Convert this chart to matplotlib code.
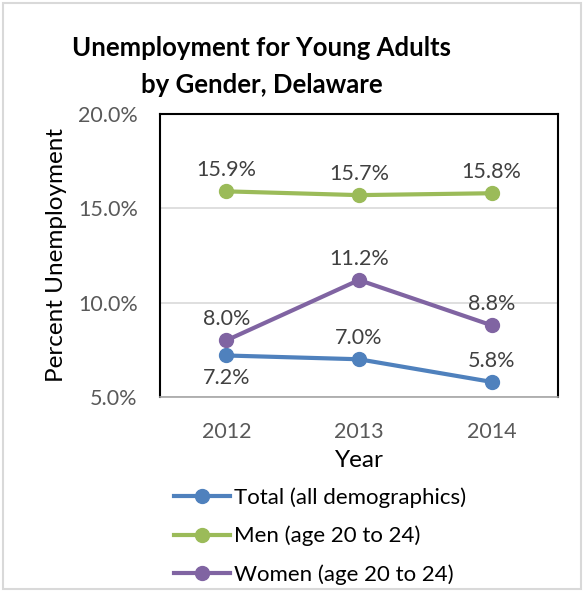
import matplotlib.pyplot as plt
from matplotlib.patches import Rectangle

years = ["2012", "2013", "2014"]
total = [7.2, 7.0, 5.8]
men = [15.9, 15.7, 15.8]
women = [8.0, 11.2, 8.8]
yticks = [5.0, 10.0, 15.0, 20.0]

plt.rcParams['font.family'] = ['Lato', 'DejaVu Sans']

fig = plt.figure(figsize=(5.84, 5.92), dpi=100)
ax = fig.add_axes([160/584, 1-397/592, 398/584, 283/592])

x = range(len(years))
ax.plot(x, total, color='#4F81BD', lw=3, marker='o', ms=10, label='Total (all demographics)', zorder=3)
ax.plot(x, men, color='#9BBB59', lw=3, marker='o', ms=10, label='Men (age 20 to 24)', zorder=3)
ax.plot(x, women, color='#8064A2', lw=3, marker='o', ms=10, label='Women (age 20 to 24)', zorder=3)

lab = dict(fontsize=15.5, color='#404040', ha='center')
for i, v in enumerate(men):
    ax.annotate(f"{v:.1f}%", (i, v), xytext=(0, 8), textcoords='offset points', va='bottom', **lab)
for i, v in enumerate(women):
    ax.annotate(f"{v:.1f}%", (i, v), xytext=(0, 8), textcoords='offset points', va='bottom', **lab)
offs = [(0, -9), (0, 8), (0, 8)]
for i, v in enumerate(total):
    ax.annotate(f"{v:.1f}%", (i, v), xytext=offs[i], textcoords='offset points',
                va='top' if offs[i][1] < 0 else 'bottom', **lab)

ax.set_xlim(-0.5, 2.5)
ax.set_ylim(5, 20)
ax.set_xticks(list(x))
ax.set_xticklabels(years)
ax.set_yticks(yticks)
ax.set_yticklabels([f"{t:.1f}%" for t in yticks])
ax.tick_params(length=0, labelsize=15.5, labelcolor='#595959')
ax.tick_params(axis='y', pad=16)
ax.tick_params(axis='x', pad=18)
ax.grid(axis='y', color='#D9D9D9', lw=1.2)
ax.set_axisbelow(True)
for s in ['left', 'top', 'right']:
    ax.spines[s].set_color('black')
    ax.spines[s].set_linewidth(1.5)
ax.spines['bottom'].set_color('#A6A6A6')
ax.spines['bottom'].set_linewidth(1.2)

ax.set_ylabel("Percent Unemployment", fontsize=17.5, color='black', labelpad=8)
ax.set_xlabel("Year", fontsize=17.5, color='black', labelpad=6)

fig.text(262/584, 1-48/592, "Unemployment for Young Adults", fontsize=18.5, fontweight='bold',
         ha='center', va='center')
fig.text(262/584, 1-85/592, "by Gender, Delaware", fontsize=18.5, fontweight='bold',
         ha='center', va='center')

fig.legend(loc='upper left', bbox_to_anchor=(154/584, 1-467/592), frameon=False,
           fontsize=16, handlelength=2.5, labelspacing=0.82, handletextpad=0.2)

fig.patches.append(Rectangle((3/584, 3/592), 578/584, 586/592, transform=fig.transFigure,
                             fill=False, edgecolor='#D9D9D9', lw=1.5))

fig.savefig("out.png", dpi=100)
